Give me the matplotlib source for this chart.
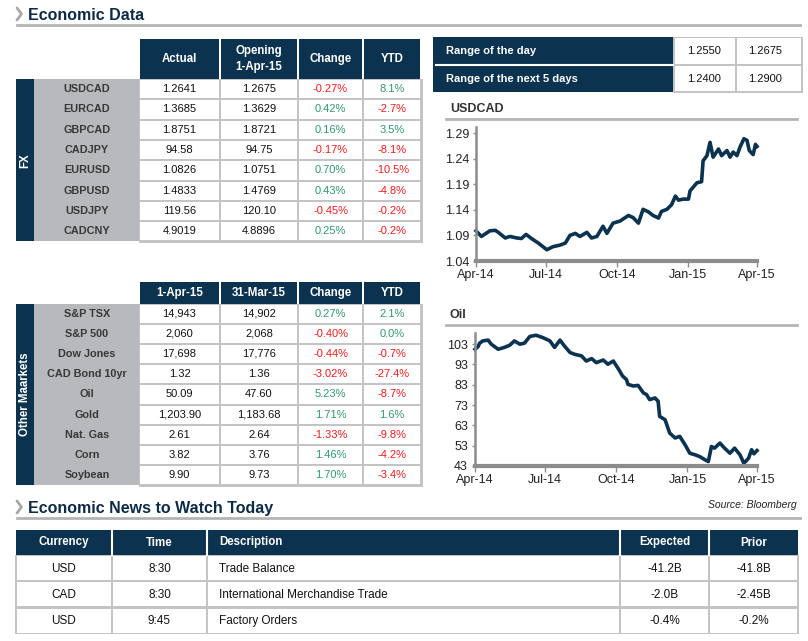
import numpy as np
import matplotlib.pyplot as plt
from matplotlib.patches import Rectangle

# ---- data ----
fx_pairs = ['USDCAD', 'EURCAD', 'GBPCAD', 'CADJPY', 'EURUSD', 'GBPUSD', 'USDJPY', 'CADCNY']
fx_actual = ['1.2641', '1.3685', '1.8751', '94.58', '1.0826', '1.4833', '119.56', '4.9019']
fx_opening = ['1.2675', '1.3629', '1.8721', '94.75', '1.0751', '1.4769', '120.10', '4.8896']
fx_change = [-0.27, 0.42, 0.16, -0.17, 0.70, 0.43, -0.45, 0.25]
fx_ytd = [8.1, -2.7, 3.5, -8.1, -10.5, -4.8, -0.2, -0.2]

mkt_names = ['S&P TSX', 'S&P 500', 'Dow Jones', 'CAD Bond 10yr', 'Oil', 'Gold', 'Nat. Gas', 'Corn', 'Soybean']
mkt_apr1 = ['14,943', '2,060', '17,698', '1.32', '50.09', '1,203.90', '2.61', '3.82', '9.90']
mkt_mar31 = ['14,902', '2,068', '17,776', '1.36', '47.60', '1,183.68', '2.64', '3.76', '9.73']
mkt_change = [0.27, -0.40, -0.44, -3.02, 5.23, 1.71, -1.33, 1.46, 1.70]
mkt_ytd = [2.1, 0.0, -0.7, -27.4, -8.7, 1.6, -9.8, -4.2, -3.4]

range_labels = ['Range of the day', 'Range of the next 5 days']
range_low = ['1.2550', '1.2400']
range_high = ['1.2675', '1.2900']

news_cols = ['Currency', 'Time', 'Description', 'Expected', 'Prior']
news_currency = ['USD', 'CAD', 'USD']
news_time = ['8:30', '8:30', '9:45']
news_desc = ['Trade Balance', 'International Merchandise Trade', 'Factory Orders']
news_expected = ['-41.2B', '-2.0B', '-0.4%']
news_prior = ['-41.8B', '-2.45B', '-0.2%']

# days since 1-Apr-14
usdcad_days = [0, 7, 18, 25, 29, 38, 44, 53, 59, 65, 72, 81, 92, 100, 109, 116, 122, 129, 135, 144,
               150, 157, 165, 170, 178, 187, 198, 204, 211, 217, 224, 230, 237, 241, 248, 254, 259,
               263, 269, 276, 278, 287, 293, 295, 300, 304, 308, 315, 319, 326, 330, 334, 339, 343,
               348, 352, 355, 360, 363, 365]
usdcad_vals = [1.099, 1.088, 1.099, 1.100, 1.096, 1.085, 1.088, 1.085, 1.084, 1.092, 1.084, 1.075,
               1.062, 1.068, 1.071, 1.075, 1.090, 1.094, 1.088, 1.096, 1.085, 1.088, 1.108, 1.094,
               1.114, 1.118, 1.129, 1.125, 1.114, 1.141, 1.136, 1.129, 1.124, 1.137, 1.141, 1.150,
               1.167, 1.159, 1.161, 1.161, 1.177, 1.193, 1.195, 1.236, 1.246, 1.272, 1.243, 1.259,
               1.246, 1.256, 1.243, 1.253, 1.246, 1.263, 1.279, 1.276, 1.256, 1.248, 1.268, 1.264]

oil_days = [0, 4, 6, 10, 17, 21, 30, 38, 45, 51, 58, 64, 71, 79, 88, 97, 103, 110, 116, 123, 129,
            138, 144, 151, 157, 166, 172, 179, 186, 191, 196, 198, 205, 211, 218, 222, 226, 233,
            237, 239, 246, 252, 259, 265, 272, 278, 285, 291, 298, 302, 306, 310, 317, 323, 330,
            336, 343, 348, 354, 358, 361, 365]
oil_vals = [100.5, 101.8, 103.5, 104.6, 105.0, 103.0, 100.5, 101.4, 102.5, 104.6, 103.0, 103.5,
            106.8, 107.4, 106.2, 104.6, 101.4, 105.0, 102.0, 98.9, 98.0, 97.2, 94.7, 95.9, 93.9,
            95.2, 93.1, 94.7, 90.6, 87.3, 85.6, 83.2, 82.4, 82.7, 79.0, 78.2, 75.7, 76.5, 74.9,
            67.4, 65.8, 59.2, 56.8, 57.6, 53.4, 49.3, 48.5, 47.6, 46.0, 45.2, 52.6, 51.8, 54.3,
            51.8, 49.3, 51.8, 48.5, 44.3, 46.8, 51.0, 49.0, 50.6]

tick_dates = ['2014-04-01', '2014-07-01', '2014-10-01', '2015-01-01', '2015-04-01']
tick_labels = ['Apr-14', 'Jul-14', 'Oct-14', 'Jan-15', 'Apr-15']

# ---- styles ----
W, H = 808, 641
NAVY = '#0b3350'
LABEL_GRAY = '#b8b9bd'
GRID = '#c4c4c4'
GREEN = '#2f9a6c'
RED = '#f41c1c'
FONT = ['Liberation Sans', 'DejaVu Sans']
NARROW = ['Liberation Sans Narrow', 'Liberation Sans', 'DejaVu Sans']
plt.rcParams['font.family'] = FONT

fig = plt.figure(figsize=(W / 100, H / 100), dpi=100)
ax = fig.add_axes([0, 0, 1, 1])
ax.set_xlim(0, W)
ax.set_ylim(H, 0)
ax.axis('off')


def box(x0, y0, x1, y1, fc, ec='none', lw=0):
    ax.add_patch(Rectangle((x0, y0), x1 - x0, y1 - y0, facecolor=fc, edgecolor=ec, linewidth=lw))


def section(y, text, x1=800):
    ax.plot([17, 21.5, 17], [y - 6, y, y + 6], color='#a8a8a8', lw=2, solid_capstyle='round')
    ax.text(28, y + 1, text, fontsize=11.5, fontweight='bold', color='#0c2b45', va='center')
    ax.plot([17, x1], [y + 11, y + 11], color='#b4b4b4', lw=2)


def pct(v, dec):
    return f'{v:.{dec}f}%'


def data_table(top_hdr, top, headers, names, side, c1, c2, chg, ytd, row_h):
    cols = [139, 220, 298, 363, 421]
    # header cells
    for i, h in enumerate(headers):
        box(cols[i] + 1, top_hdr, cols[i + 1] - 1, top, NAVY)
        ax.text((cols[i] + cols[i + 1]) / 2, (top_hdr + top) / 2, h, color='white',
                fontsize=8.3, fontweight='bold', ha='center', va='center', linespacing=1.5)
    n = len(names)
    bottom = top + row_h * n
    box(16, top, 34, bottom, NAVY)
    box(34, top, 139, bottom, LABEL_GRAY)
    ax.text(25, (top + bottom) / 2, side, rotation=90, color='white', fontsize=8.3,
            fontweight='bold', ha='center', va='center')
    box(139, top, 423, bottom + 2, GRID)
    for r in range(n):
        y0 = top + r * row_h
        yc = y0 + row_h / 2
        ax.text(87, yc, names[r], fontsize=7.8, fontweight='bold', color='#383838',
                ha='center', va='center')
        for i in range(4):
            box(cols[i] + 1, y0 + 1, cols[i + 1] - 1, y0 + row_h - 1, 'white')
        xs = [(cols[i] + cols[i + 1]) / 2 for i in range(4)]
        ax.text(xs[0], yc, c1[r], fontsize=8, ha='center', va='center', color='#111111')
        ax.text(xs[1], yc, c2[r], fontsize=8, ha='center', va='center', color='#111111')
        ax.text(xs[2], yc, pct(chg[r], 2), fontsize=8, ha='center', va='center',
                color=GREEN if chg[r] >= 0 else RED)
        ax.text(xs[3], yc, pct(ytd[r], 1), fontsize=8, ha='center', va='center',
                color=GREEN if ytd[r] >= 0 else RED)


# ---- left side ----
section(14, 'Economic Data')
data_table(39, 79, ['Actual', 'Opening\n1-Apr-15', 'Change', 'YTD'], fx_pairs, 'FX',
           fx_actual, fx_opening, fx_change, fx_ytd, 20.3)
data_table(282, 303.5, ['1-Apr-15', '31-Mar-15', 'Change', 'YTD'], mkt_names, 'Other Maarkets',
           mkt_apr1, mkt_mar31, mkt_change, mkt_ytd, 20.2)

# ---- range table ----
box(433, 37, 673, 92, NAVY)
ax.plot([436, 673], [64.5, 64.5], color='white', lw=1.5)
box(673, 37, 803, 93, GRID)
for r in range(2):
    y0 = 37 + r * 27.5
    yc = y0 + 14
    ax.text(446, yc, range_labels[r], color='white', fontsize=8, fontweight='bold', va='center')
    box(675, y0 + 1, 735, y0 + 26.5, 'white')
    box(737, y0 + 1, 801, y0 + 26.5, 'white')
    ax.text(704, yc, range_low[r], fontsize=8, ha='center', va='center', color='#111111')
    ax.text(765, yc, range_high[r], fontsize=8, ha='center', va='center', color='#111111')

# ---- charts ----
start = np.datetime64('2014-04-01')
ticks = [np.datetime64(d) for d in tick_dates]


def chart(x0, y0, x1, y1, title, days, vals, ylim, yticks, ylabels):
    ax.text(450, y0 - 18, title, fontsize=9, fontweight='bold', color='#333333', va='center')
    ax.plot([446, 797], [y0 - 8, y0 - 8], color='#b4b4b4', lw=2)
    c = fig.add_axes([x0 / W, 1 - y1 / H, (x1 - x0) / W, (y1 - y0) / H])
    c.patch.set_alpha(0)
    dates = start + np.array(days).astype('timedelta64[D]')
    c.plot(dates, vals, color=NAVY, lw=2.6, solid_joinstyle='round', clip_on=False)
    c.set_xlim(ticks[0], ticks[-1])
    c.set_ylim(*ylim)
    c.set_xticks(ticks)
    c.set_xticklabels(tick_labels, family=NARROW, fontsize=9, color='#222222')
    c.set_yticks(yticks)
    c.set_yticklabels(ylabels, family=NARROW, fontsize=9, color='#222222')
    for s in ['top', 'right']:
        c.spines[s].set_visible(False)
    c.spines['left'].set_color('#8c8c8c')
    c.spines['left'].set_linewidth(1.8)
    c.spines['bottom'].set_color('#8c8c8c')
    c.spines['bottom'].set_linewidth(3)
    c.tick_params(axis='x', length=4, width=1, color='#8c8c8c', pad=2)
    c.tick_params(axis='y', length=2, width=1, color='#8c8c8c', pad=3)
    return c


yt1 = [1.04, 1.09, 1.14, 1.19, 1.24, 1.29]
chart(476, 127, 757, 261, 'USDCAD', usdcad_days, usdcad_vals, (1.04, 1.302),
      yt1, [f'{v:.2f}' for v in yt1])
yt2 = [43, 53, 63, 73, 83, 93, 103]
chart(475, 333, 757, 466, 'Oil', oil_days, oil_vals, (43, 108.5),
      yt2, [str(v) for v in yt2])

ax.text(797, 505, 'Source: Bloomberg', fontsize=7.5, style='italic', ha='right', va='center',
        color='#222222')

# ---- news table ----
section(507, 'Economic News to Watch Today')
ncols = [16, 112, 207, 620, 709, 798]
box(16, 529.5, 798, 555, NAVY)
for i in range(1, 5):
    ax.plot([ncols[i], ncols[i]], [530, 555], color='white', lw=1.5)
for i, h in enumerate(news_cols):
    if i == 2:
        ax.text(219, 542.5, h, color='white', fontsize=8.3, fontweight='bold', va='center')
    else:
        ax.text((ncols[i] + ncols[i + 1]) / 2, 542.5, h, color='white', fontsize=8.3,
                fontweight='bold', ha='center', va='center')
box(15, 555, 799, 634, GRID)
rows = list(zip(news_currency, news_time, news_desc, news_expected, news_prior))
for r, vals in enumerate(rows):
    y0 = 555 + r * 26.2
    yc = y0 + 13.5
    for i in range(5):
        box(ncols[i] + 1, y0 + 1.2, ncols[i + 1] - 1, y0 + 25.2, 'white')
    for i, v in enumerate(vals):
        if i == 2:
            ax.text(219, yc, v, fontsize=8.5, va='center', color='#111111')
        else:
            ax.text((ncols[i] + ncols[i + 1]) / 2, yc, v, fontsize=8.5, ha='center',
                    va='center', color='#111111')

fig.savefig('out.png', dpi=100)
